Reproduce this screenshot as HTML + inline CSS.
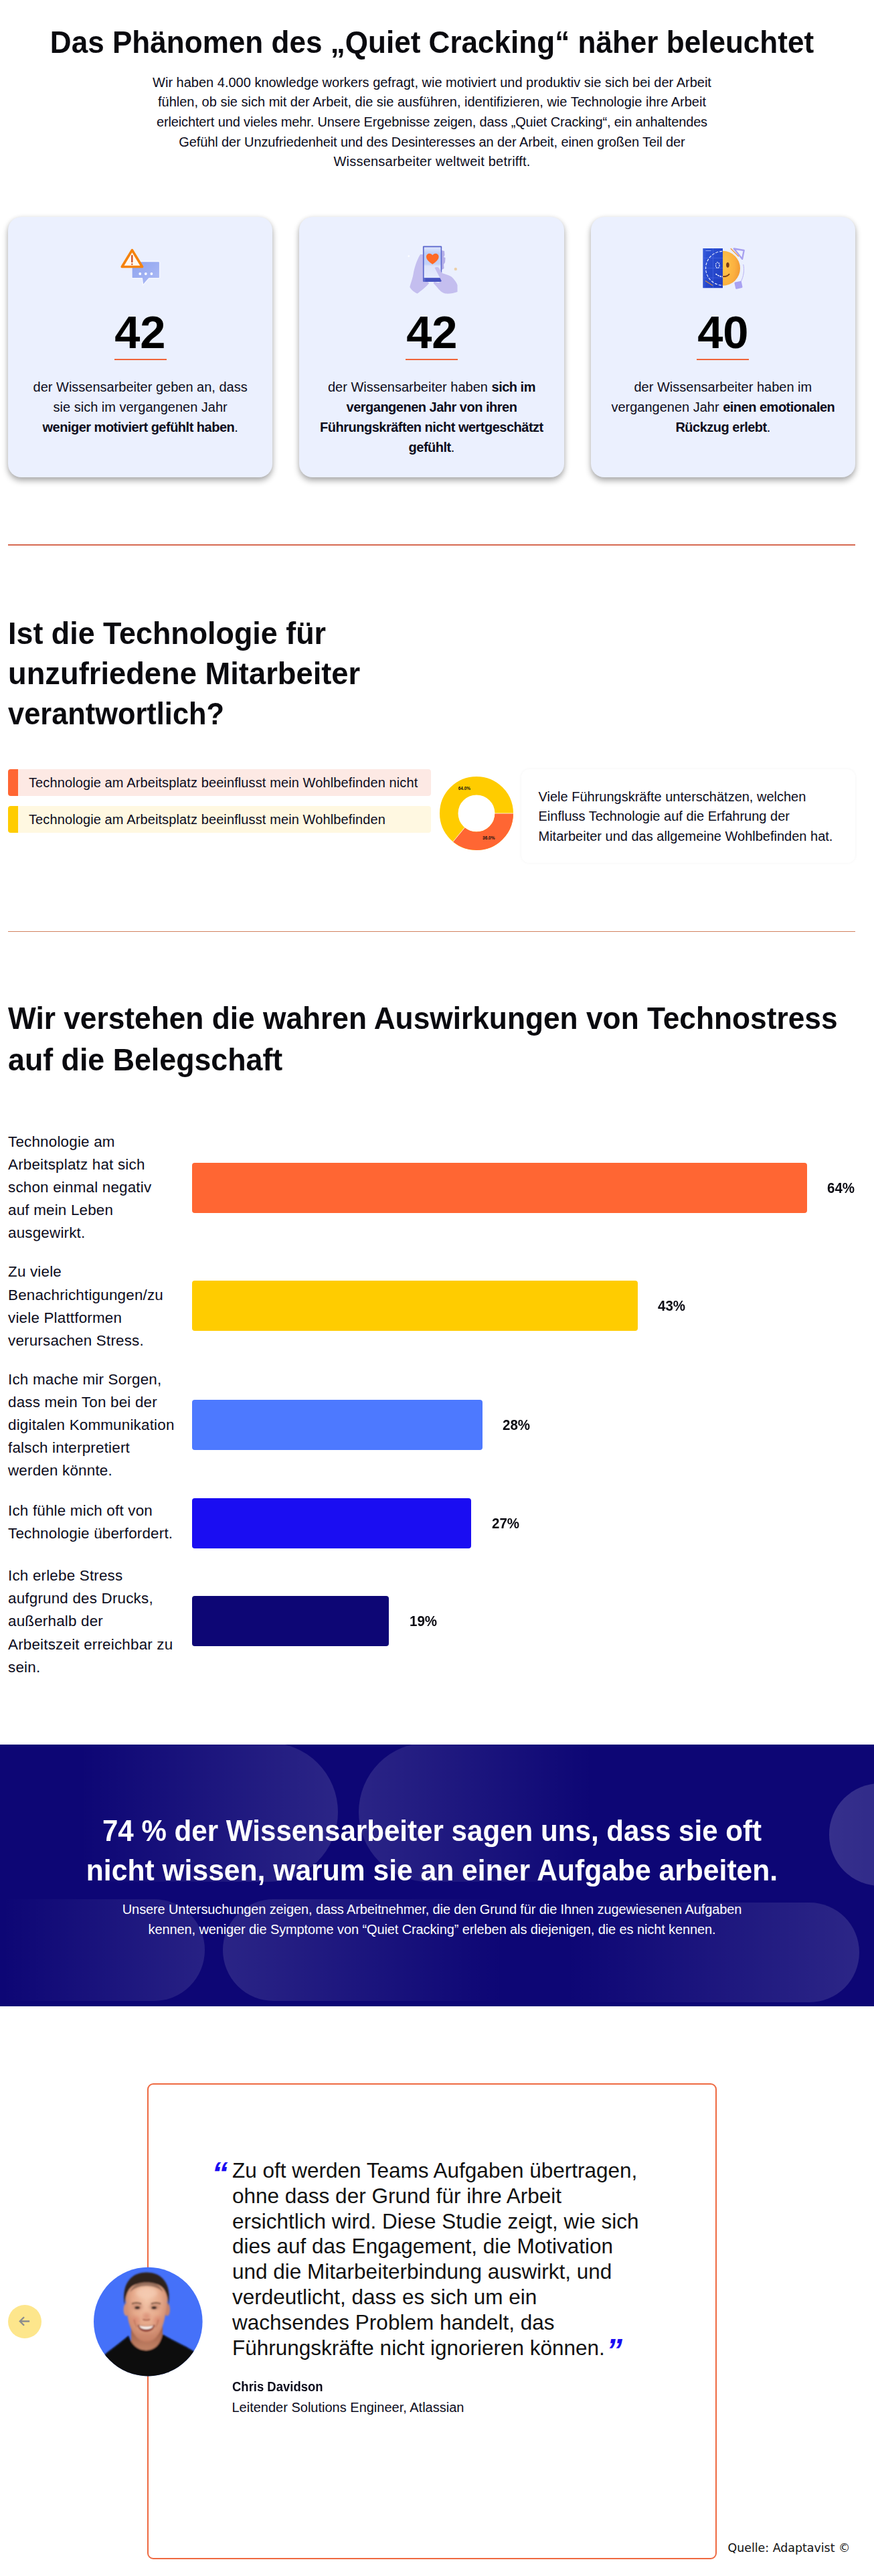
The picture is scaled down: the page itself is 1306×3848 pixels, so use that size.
<!DOCTYPE html>
<html lang="de">
<head>
<meta charset="utf-8">
<title>Quiet Cracking</title>
<style>
*{box-sizing:border-box;margin:0;padding:0}
html,body{width:1306px;height:3848px;background:#fff;overflow:hidden}
body{font-family:"Liberation Sans",sans-serif;color:#0c0c1c;position:relative}
.abs{position:absolute}
.nw{white-space:nowrap}
.pill{position:absolute}
.h{font-weight:700;font-size:47px;line-height:60px;white-space:nowrap;color:#0a0a0f}
.ln{display:block}
.hc{text-align:center}
.p{font-size:20px;line-height:29.7px;white-space:nowrap}
.c{text-align:center}
b{font-weight:700;letter-spacing:-.5px}
/* cards */
.card{position:absolute;top:324px;width:395.3px;height:389px;background:#ebf0fe;border-radius:20px;box-shadow:0 5px 10px rgba(0,0,0,.33),0 0 6px rgba(0,0,0,.06)}
.card .ico{position:absolute;left:50%;top:36px;width:80px;height:80px;margin-left:-40px}
.card .num{position:absolute;left:0;right:0;top:0;text-align:center;font-weight:700;font-size:69px;line-height:80px;color:#000}
.card .num span{display:inline-block;transform:scaleX(.995)}
.card .ul{position:absolute;left:50%;top:212px;width:78px;height:2px;margin-left:-39px;background:#f0643a}
.card .t{position:absolute;left:0;right:0;top:239.1px;text-align:center;font-size:20px;line-height:30px;white-space:nowrap}
/* legend */
.lg{position:absolute;left:12px;width:632px;height:40px;border-radius:4px;border-left:15px solid;font-size:20px;line-height:40px;padding-left:16px;white-space:nowrap;letter-spacing:.11px}
/* bars */
.bl{position:absolute;left:12px;font-size:22.4px;line-height:34.1px;white-space:nowrap;letter-spacing:.2px;margin-top:.7px}
.bar{position:absolute;left:287px;height:75px;border-radius:4px}
.pc{position:absolute;font-weight:700;font-size:22.2px;line-height:30px;white-space:nowrap;transform:scaleX(.925);transform-origin:0 50%;color:#0a0a12}
</style>
</head>
<body>

<!-- ===== header ===== -->
<div id="h1" class="abs h hc" style="left:0;width:1291px;top:32.9px"><span class="ln" style="transform:scaleX(.9377);transform-origin:50% 0">Das Phänomen des „Quiet Cracking“ näher beleuchtet</span></div>
<div id="intro" class="abs p c" style="left:0;width:1291px;top:108.5px">Wir haben 4.000 knowledge workers gefragt, wie motiviert und produktiv sie sich bei der Arbeit<br>fühlen, ob sie sich mit der Arbeit, die sie ausführen, identifizieren, wie Technologie ihre Arbeit<br><span style="letter-spacing:-.14px">erleichtert und vieles mehr. Unsere Ergebnisse zeigen, dass „Quiet Cracking“, ein anhaltendes</span><br><span style="letter-spacing:-.11px">Gefühl der Unzufriedenheit und des Desinteresses an der Arbeit, einen großen Teil der</span><br><span style="letter-spacing:.23px">Wissensarbeiter weltweit betrifft.</span></div>

<!-- ===== cards ===== -->
<div class="card" id="card1" style="left:12px">
  <svg class="ico" id="ico1" style="left:153px;top:31px;margin:0;width:90px;height:90px" viewBox="0 0 90 90">
  <defs>
    <linearGradient id="g1b" x1="0" y1="0" x2="1" y2="1"><stop offset="0" stop-color="#8ea3ee"/><stop offset="1" stop-color="#aebcf6"/></linearGradient>
    <filter id="f1" x="-20%" y="-20%" width="140%" height="140%"><feGaussianBlur stdDeviation=".45"/></filter>
  </defs>
  <g filter="url(#f1)">
    <path d="M33.5 35.5h38.5a1.6 1.6 0 0 1 1.6 1.6v22.1a1.6 1.6 0 0 1-1.6 1.6H57.7L48.6 71l-1.2-10.2H33.5a1.6 1.6 0 0 1-1.6-1.6V37.1a1.6 1.6 0 0 1 1.6-1.6z" fill="url(#g1b)" stroke="#f4f6ff" stroke-width="1.4" stroke-linejoin="round"/>
    <circle cx="44.3" cy="54" r="1.9" fill="#fff"/><circle cx="52.8" cy="54" r="1.9" fill="#fff"/><circle cx="61.4" cy="54" r="1.9" fill="#fff"/>
    <path d="M32.400 18.600L47.500 43.500H17.300z" fill="#fff9f0" stroke="#f5820b" stroke-width="3.700" stroke-linejoin="round"/>
    <path d="M32.3 27v9.2" stroke="#cf4a1c" stroke-width="2.3" stroke-linecap="round"/>
    <circle cx="32.3" cy="39.6" r="1.2" fill="#cf4a1c"/>
  </g>
</svg>
  <div class="num" style="top:132.500px"><span>42</span></div>
  <div class="ul"></div>
  <div class="t">der Wissensarbeiter geben an, dass<br>sie sich im vergangenen Jahr<br><b>weniger motiviert gefühlt haben</b>.</div>
</div>
<div class="card" id="card2" style="left:447.300px">
  <svg class="ico" id="ico2" style="left:152.5px;top:31px;margin:0;width:90px;height:90px" viewBox="0 0 90 90">
  <defs>
    <linearGradient id="g2s" x1="0" y1="0" x2="0" y2="1"><stop offset="0" stop-color="#dfe6fc"/><stop offset=".2" stop-color="#bccdf8"/><stop offset=".55" stop-color="#c3d1f8"/><stop offset=".62" stop-color="#dde3fb"/><stop offset="1" stop-color="#e6eafd"/></linearGradient>
    <filter id="f2" x="-20%" y="-20%" width="140%" height="140%"><feGaussianBlur stdDeviation=".55"/></filter>
  </defs>
  <g filter="url(#f2)">
    <path d="M28 25C22 35 19 46 17.5 55 16 63 13 70 12.4 74c3 5 8 8.500 11.300 9.400C30 79 37 73 41.200 68L35 61.800 32.500 57V25z" fill="#c4beef"/>
    <path d="M60 19l4 1 .5 6-1.500 3 2.500 1-.5 7-2 3 .5 6-3.500 2z" fill="#b5afe8"/>
    <rect x="31.900" y="12.400" width="28.300" height="53.500" rx="1.200" fill="#5a66cc"/>
    <rect x="33.600" y="14.300" width="25" height="45.600" fill="url(#g2s)"/>
    <rect x="35.500" y="60.800" width="23.700" height="5.100" fill="#4753c0"/>
    <path d="M46.300 39.800c-5-3.300-9.300-6.800-9.300-11.200 0-3 2.300-4.900 4.800-4.900 1.900 0 3.500 1 4.500 2.600 1-1.600 2.600-2.600 4.500-2.600 2.500 0 4.800 1.900 4.800 4.900 0 4.400-4.300 7.900-9.300 11.200z" fill="#ff6a28"/>
    <path d="M49.500 45c1.500-1.500 5-1.500 6.200 0L60.500 53c4 1.500 10 2.500 13.500 5 4 3 8.500 9 9.500 13v10c-5 2-12 3-18 2.500-5-1-9-5-12-9l-5.600-6.300c-.5-1.500 1-2.600 2.500-2l4.600 1.300 5-2.500z" fill="#c4beef"/>
    <circle cx="80.800" cy="46.900" r="2.200" fill="#ebcfa8"/>
    <circle cx="10.800" cy="27.600" r="1.300" fill="#fff"/>
  </g>
</svg>
  <div class="num" style="top:132.500px"><span>42</span></div>
  <div class="ul"></div>
  <div class="t">der Wissensarbeiter haben <b>sich im</b><br><b>vergangenen Jahr von ihren</b><br><b>Führungskräften nicht wertgeschätzt</b><br><b>gefühlt</b>.</div>
</div>
<div class="card" id="card3" style="left:882.700px">
  <svg class="ico" id="ico3" style="left:152px;top:31px;margin:0;width:90px;height:90px" viewBox="0 0 90 90">
  <defs>
    <linearGradient id="g3b" x1="0" y1="0" x2="1" y2="1"><stop offset="0" stop-color="#2f55d8"/><stop offset="1" stop-color="#1f3cc0"/></linearGradient>
    <radialGradient id="g3f" cx=".1" cy=".4" r="1"><stop offset="0" stop-color="#ffc64a"/><stop offset=".6" stop-color="#fbb040"/><stop offset="1" stop-color="#ee9430"/></radialGradient>
    <filter id="f3" x="-20%" y="-20%" width="140%" height="140%"><feGaussianBlur stdDeviation=".5"/></filter>
    <clipPath id="c3l"><rect x="15.400" y="16" width="29.600" height="59.200"/></clipPath>
  </defs>
  <g filter="url(#f3)">
    <path d="M61.800 16.500L76.700 19 74.100 31.900z" fill="none" stroke="#a7a0f0" stroke-width="2.300" stroke-linejoin="round"/>
    <path d="M57.200 16.500L68.500 27.800" stroke="#f2a04a" stroke-width="1.500" stroke-linecap="round"/>
    <path d="M75.700 40c2 8 .5 18-3.700 26" fill="none" stroke="#b9b3f3" stroke-width="1"/>
    <rect x="63.200" y="65.600" width="10.600" height="10.400" rx="1.500" transform="rotate(-12 68.500 70.800)" fill="#a9a2f2"/>
    <path d="M45 19.800a26 26 0 0 1 0 52z" fill="url(#g3f)"/>
    <ellipse cx="52.400" cy="40.800" rx="2.300" ry="3.900" fill="#7a3d12"/>
    <path d="M45 58.200c4 .2 7.500-1.200 9.600-3.600" fill="none" stroke="#7a3d12" stroke-width="1.700" stroke-linecap="round"/>
    <rect x="15.400" y="16" width="29.600" height="59.200" fill="url(#g3b)"/>
    <g clip-path="url(#c3l)" fill="none">
      <path d="M15.400 30.500h29.600M15.400 45.500h29.600M15.400 60h29.600M30.500 16v59.200M18 16v59.200" stroke="#4a6ae6" stroke-width=".6"/>
      <circle cx="45" cy="45.800" r="25.400" stroke="#eef2ff" stroke-width="1.100" stroke-dasharray="4 2"/>
      <ellipse cx="37.300" cy="41.200" rx="2.800" ry="4.300" stroke="#eef2ff" stroke-width="1.200" stroke-dasharray="2 1"/>
      <path d="M34.500 54c3 2.800 6.500 4.200 10.500 4.400" stroke="#eef2ff" stroke-width="1.600" stroke-dasharray="2.500 1"/>
      <path d="M19 64.500l11 7" stroke="#c98a4a" stroke-width="1.400"/>
      <path d="M19.500 19.500h8" stroke="#8fa6f5" stroke-width="1"/>
    </g>
  </g>
</svg>
  <div class="num" style="top:132.500px"><span>40</span></div>
  <div class="ul"></div>
  <div class="t">der Wissensarbeiter haben im<br>vergangenen Jahr <b>einen emotionalen</b><br><b>Rückzug erlebt</b>.</div>
</div>

<!-- ===== section 2 ===== -->
<div class="abs" style="left:12px;top:813px;width:1266px;height:2px;background:#d66a52"></div>
<div id="h2" class="abs h" style="left:12px;top:915.5px"><span class="ln" style="transform:scaleX(.954);transform-origin:0 0">Ist die Technologie für</span><span class="ln" style="transform:scaleX(.964);transform-origin:0 0">unzufriedene Mitarbeiter</span><span class="ln" style="transform:scaleX(.923);transform-origin:0 0">verantwortlich?</span></div>

<div class="lg" id="lg1" style="top:1149px;border-color:#ff6633;background:#fde9e4">Technologie am Arbeitsplatz beeinflusst mein Wohlbefinden nicht</div>
<div class="lg" id="lg2" style="top:1204px;border-color:#ffcc00;background:#fff8e1">Technologie am Arbeitsplatz beeinflusst mein Wohlbefinden</div>

<svg id="donut" class="abs" style="left:652px;top:1155px" width="120" height="120" viewBox="-60 -60 120 120">
  <circle r="41.25" fill="none" stroke="#ffcc00" stroke-width="27.5"/>
  <circle r="41.25" fill="none" stroke="#ff6633" stroke-width="27.5" stroke-dasharray="93.3 259.2"/>
  <path d="M27 0H56M-17.210 20.800L-35.700 43.150" stroke="#fff" stroke-width=".8" fill="none"/>
  <text x="-18.100" y="-35.300" font-family="Liberation Sans, sans-serif" font-weight="700" font-size="6.500" text-anchor="middle" fill="#111">64.0%</text>
  <text x="18.300" y="39.400" font-family="Liberation Sans, sans-serif" font-weight="700" font-size="6.500" text-anchor="middle" fill="#111">36.0%</text>
</svg>

<div class="abs" id="box" style="left:779px;top:1149px;width:499px;height:140px;border-radius:12px;box-shadow:0 0 4px rgba(0,0,0,.05)"></div>
<div class="abs p" id="boxt" style="left:804.5px;top:1175.5px;line-height:29.6px">Viele Führungskräfte unterschätzen, welchen<br>Einfluss Technologie auf die Erfahrung der<br>Mitarbeiter und das allgemeine Wohlbefinden hat.</div>

<!-- ===== section 3 ===== -->
<div class="abs" style="left:12px;top:1391px;width:1266px;height:1px;background:#d2825f"></div>
<div id="h3" class="abs h" style="left:12px;top:1489.6px;line-height:62px"><span class="ln" style="transform:scaleX(.942);transform-origin:0 0">Wir verstehen die wahren Auswirkungen von Technostress</span><span class="ln" style="transform:scaleX(.952);transform-origin:0 0">auf die Belegschaft</span></div>

<div class="bl" id="bl1" style="top:1688.4px">Technologie am<br>Arbeitsplatz hat sich<br>schon einmal negativ<br>auf mein Leben<br>ausgewirkt.</div>
<div class="bar" style="top:1737px;width:919px;background:#ff6633"></div>
<div class="pc" style="left:1236px;top:1759.5px">64%</div>

<div class="bl" id="bl2" style="top:1882.8px">Zu viele<br>Benachrichtigungen/zu<br>viele Plattformen<br>verursachen Stress.</div>
<div class="bar" style="top:1913px;width:666px;background:#ffcc00"></div>
<div class="pc" style="left:983px;top:1935.5px">43%</div>

<div class="bl" id="bl3" style="top:2043px">Ich mache mir Sorgen,<br>dass mein Ton bei der<br>digitalen Kommunikation<br>falsch interpretiert<br>werden könnte.</div>
<div class="bar" style="top:2091px;width:433.5px;background:#4d79ff"></div>
<div class="pc" style="left:751px;top:2113.5px">28%</div>

<div class="bl" id="bl4" style="top:2239.4px">Ich fühle mich oft von<br>Technologie überfordert.</div>
<div class="bar" style="top:2238px;width:417px;background:#1a0df2"></div>
<div class="pc" style="left:735px;top:2260.5px">27%</div>

<div class="bl" id="bl5" style="top:2336.6px">Ich erlebe Stress<br>aufgrund des Drucks,<br>außerhalb der<br>Arbeitszeit erreichbar zu<br>sein.</div>
<div class="bar" style="top:2384px;width:293.6px;background:#0d0675"></div>
<div class="pc" style="left:612px;top:2406.5px">19%</div>

<!-- ===== banner ===== -->
<div id="banner" class="abs" style="left:0;top:2606px;width:1306px;height:390.5px;background:#0d0675;overflow:hidden">
  <div class="pill" style="left:-300px;top:-3px;width:804.8px;height:208px;border-radius:104px;background:linear-gradient(90deg,rgba(255,255,255,0) 52%,rgba(255,255,255,.125) 100%)"></div>
  <div class="pill" style="left:536.3px;top:-3px;width:700px;height:208px;border-radius:104px;background:linear-gradient(90deg,rgba(255,255,255,.12) 0%,rgba(255,255,255,0) 50%)"></div>
  <div class="pill" style="left:1238.7px;top:58.4px;width:400px;height:152.4px;border-radius:76.2px;background:linear-gradient(90deg,rgba(255,255,255,.17) 0%,rgba(255,255,255,.06) 100%)"></div>
  <div class="pill" style="left:-300px;top:231px;width:606.2px;height:152px;border-radius:76px;background:linear-gradient(90deg,rgba(255,255,255,0) 50%,rgba(255,255,255,.11) 100%)"></div>
  <div class="pill" style="left:333px;top:231px;width:700px;height:152px;border-radius:76px;background:linear-gradient(90deg,rgba(255,255,255,.12) 0%,rgba(255,255,255,0) 60%)"></div>
  <div class="pill" style="left:700px;top:236px;width:583.6px;height:149px;border-radius:74.500px;background:linear-gradient(90deg,rgba(255,255,255,0) 25%,rgba(255,255,255,.13) 100%)"></div>
</div>
<div id="bh" class="abs h hc" style="left:0;width:1291px;top:2706.4px;font-size:45px;line-height:58.3px;color:#fff"><span class="ln" style="transform:scaleX(.936);transform-origin:50% 0">74 % der Wissensarbeiter sagen uns, dass sie oft</span><span class="ln" style="transform:scaleX(.947);transform-origin:50% 0">nicht wissen, warum sie an einer Aufgabe arbeiten.</span></div>
<div id="bp" class="abs p c" style="left:0;width:1291px;top:2838.300px;color:#fff;line-height:29.7px;letter-spacing:-.11px">Unsere Untersuchungen zeigen, dass Arbeitnehmer, die den Grund für die Ihnen zugewiesenen Aufgaben<br>kennen, weniger die Symptome von “Quiet Cracking” erleben als diejenigen, die es nicht kennen.</div>

<!-- ===== quote ===== -->
<div id="qcard" class="abs" style="left:219.5px;top:3112px;width:851px;height:711px;border:2px solid #ee6a42;border-radius:9px"></div>
<div id="quote" class="abs nw" style="left:347px;top:3224px;font-size:31.5px;line-height:37.8px;color:#111">Zu oft werden Teams Aufgaben übertragen,<br>ohne dass der Grund für ihre Arbeit<br>ersichtlich wird. Diese Studie zeigt, wie sich<br>dies auf das Engagement, die Motivation<br>und die Mitarbeiterbindung auswirkt, und<br>verdeutlicht, dass es sich um ein<br>wachsendes Problem handelt, das<br>Führungskräfte nicht ignorieren können.</div>
<div id="qname" class="abs nw" style="left:346.5px;top:3550.3px;font-size:20px;line-height:30px;font-weight:700;transform:scaleX(.924);transform-origin:0 50%">Chris Davidson</div>
<div id="qtitle" class="abs nw" style="left:346.5px;top:3581px;font-size:20px;line-height:30px">Leitender Solutions Engineer, Atlassian</div>


<svg id="avatar" class="abs" style="left:130px;top:3378px" width="180" height="180" viewBox="0 0 180 180">
  <defs>
    <clipPath id="avc"><circle cx="91.300" cy="90.100" r="81.300"/></clipPath>
    <radialGradient id="skin" cx=".5" cy=".4" r=".66"><stop offset="0" stop-color="#f2c4a8"/><stop offset=".5" stop-color="#e6aa8c"/><stop offset=".85" stop-color="#c98468"/><stop offset="1" stop-color="#a8654e"/></radialGradient>
    <linearGradient id="neck" x1="0" y1="0" x2="0" y2="1"><stop offset="0" stop-color="#9c5a44"/><stop offset="1" stop-color="#c98a6c"/></linearGradient>
    <filter id="avb" x="-10%" y="-10%" width="120%" height="120%"><feGaussianBlur stdDeviation="1"/></filter>
    <filter id="avb2" x="-20%" y="-20%" width="140%" height="140%"><feGaussianBlur stdDeviation="1.300"/></filter>
    <filter id="avb3" x="-20%" y="-20%" width="140%" height="140%"><feGaussianBlur stdDeviation="2.600"/></filter>
  </defs>
  <circle cx="91.300" cy="90.100" r="81.300" fill="#4571f9"/>
  <g clip-path="url(#avc)">
    <g filter="url(#avb)">
      <path d="M66 96h47v42H66z" fill="url(#neck)"/>
      <path d="M14 182L20 146C28 136 42 128 62 111C66 124 76 133 88.500 133C101 133 110 124 113 109C129 119 148 126 162 136L168 182Z" fill="#070707"/>
      <ellipse cx="58.800" cy="72" rx="4.200" ry="9.500" fill="#d0907a"/>
      <ellipse cx="119.800" cy="72" rx="4.200" ry="9.500" fill="#c4826c"/>
      <path d="M58 60c-4-26 10-43 31-43s35 17 31 43c-1 9-3 23-6 33-4 14-14 28-25 28s-22-14-26-28c-3-10-4-24-5-33z" fill="url(#skin)"/>
      <path d="M56.500 66C50.500 33 66.500 16.500 89 16.500S127.500 33 121.500 66C120.700 53 118.500 45 112.500 39C107.500 34 98 31.500 89 31.500S70.500 34 65.500 39C59.500 45 57.300 53 56.500 66Z" fill="#2e201b"/>
      <path d="M64 46c4-10 13-15 25-15s21 5 25 15c-6-6-15-9-25-9s-19 3-25 9z" fill="#5a3d32" opacity=".55"/>
    </g>
    <g filter="url(#avb3)">
      <ellipse cx="72" cy="88" rx="7" ry="6" fill="#d9826c" opacity=".55"/>
      <ellipse cx="106" cy="88" rx="7" ry="6" fill="#d9826c" opacity=".55"/>
      <ellipse cx="89" cy="82" rx="5.500" ry="5" fill="#d4806a" opacity=".6"/>
      <ellipse cx="75" cy="68" rx="8" ry="4" fill="#a96a55" opacity=".55"/>
      <ellipse cx="101" cy="68" rx="8" ry="4" fill="#a96a55" opacity=".55"/>
      <ellipse cx="89" cy="47" rx="16" ry="9" fill="#f8d2ba" opacity=".6"/>
      <ellipse cx="89" cy="112" rx="12" ry="5" fill="#c98468" opacity=".5"/>
    </g>
    <g filter="url(#avb2)">
      <path d="M67 63.500c4-1.800 9.500-1.800 14 0M96 63.500c4.500-1.800 10-1.800 14 0" fill="none" stroke="#6a4534" stroke-width="2.200" opacity=".85"/>
      <ellipse cx="75.200" cy="69.200" rx="3.600" ry="1.700" fill="#33241f"/>
      <ellipse cx="100.200" cy="69.200" rx="3.600" ry="1.700" fill="#33241f"/>
      <path d="M83.500 86.500c2 1.600 8.500 1.600 10.500 0" fill="none" stroke="#a8604a" stroke-width="1.700"/>
      <path d="M75.500 94.500c4 1.800 8.500 2.300 13 2.300s9-.5 13-2.300c-1.500 7.200-6.800 10.500-13 10.500s-11.500-3.300-13-10.500z" fill="#8c3f34"/>
      <path d="M78 95.800c3 1.100 6.800 1.500 10.500 1.500s7.500-.4 10.500-1.500c-1.200 3.800-5.200 5.600-10.500 5.600s-9.300-1.800-10.500-5.600z" fill="#fbf3ee"/>
      <path d="M70.500 87c.8 5 2 8.500 4.200 11.500M106.500 87c-.8 5-2 8.500-4.200 11.500" fill="none" stroke="#b06a52" stroke-width="1.400" opacity=".8"/>
    </g>
  </g>
</svg>
<div id="arrow" class="abs" style="left:11.600px;top:3442.800px;width:50px;height:50px;border-radius:50%;background:#fde68c"></div>
<svg class="abs" style="left:25.100px;top:3456.300px" width="23" height="23" viewBox="0 0 24 24"><path d="M20 12H5.500M11.500 5.500L5 12l6.500 6.500" fill="none" stroke="#8d8d8d" stroke-width="2.500"/></svg>
<div id="q1" class="abs nw" style="left:316.500px;top:3224.500px;font-size:48px;line-height:44px;font-weight:700;font-style:italic;color:#1a0df2">“</div>
<div id="q2" class="abs nw" style="left:906px;top:3489.200px;font-size:48px;line-height:44px;font-weight:700;font-style:italic;color:#1a0df2">”</div>

<div id="foot" class="abs nw" style="left:1087.5px;top:3793px;font-family:'DejaVu Sans',sans-serif;font-size:17.4px;line-height:26px;color:#111">Quelle: Adaptavist ©</div>

</body>
</html>
